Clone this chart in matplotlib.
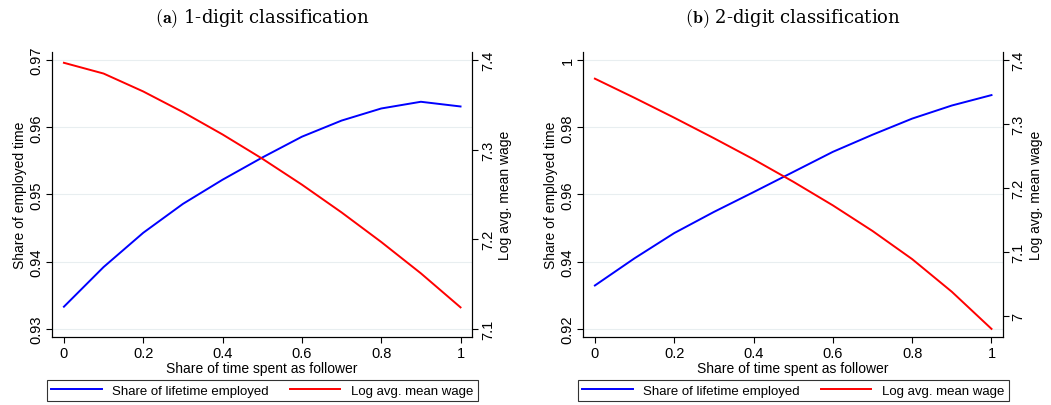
import numpy as np
import matplotlib
matplotlib.use("Agg")
import matplotlib.pyplot as plt

plt.rcParams['font.family'] = ['Liberation Sans', 'DejaVu Sans']
plt.rcParams['mathtext.fontset'] = 'cm'

share_follower = [0.0, 0.1, 0.2, 0.3, 0.4, 0.5, 0.6, 0.7, 0.8, 0.9, 1.0]

# panel a: 1-digit
emp_a = [0.9333, 0.9392, 0.9443, 0.9486, 0.9522, 0.9555, 0.9586, 0.9610, 0.9628, 0.9638, 0.9631]
wage_a = [7.397, 7.385, 7.365, 7.342, 7.317, 7.290, 7.261, 7.230, 7.197, 7.162, 7.124]
# panel b: 2-digit
emp_b = [0.9329, 0.9410, 0.9485, 0.9548, 0.9607, 0.9667, 0.9727, 0.9778, 0.9826, 0.9865, 0.9896]
wage_b = [7.371, 7.341, 7.310, 7.278, 7.245, 7.210, 7.173, 7.133, 7.089, 7.038, 6.980]

x_ticks = [0, 0.2, 0.4, 0.6, 0.8, 1]
x_labels = ["0", "0.2", "0.4", "0.6", "0.8", "1"]

panels = [
    dict(title="(a)", name="1-digit classification", emp=emp_a, wage=wage_a,
         lticks=[0.93, 0.94, 0.95, 0.96, 0.97], llabels=["0.93", "0.94", "0.95", "0.96", "0.97"],
         llim=(0.92876, 0.97124), rticks=[7.1, 7.2, 7.3, 7.4], rlabels=["7.1", "7.2", "7.3", "7.4"],
         rlim=(7.0907, 7.4093), left=0.0495),
    dict(title="(b)", name="2-digit classification", emp=emp_b, wage=wage_b,
         lticks=[0.92, 0.94, 0.96, 0.98, 1.0], llabels=["0.92", "0.94", "0.96", "0.98", "1"],
         llim=(0.9175, 1.0025), rticks=[7.0, 7.1, 7.2, 7.3, 7.4], rlabels=["7", "7.1", "7.2", "7.3", "7.4"],
         rlim=(6.967, 7.413), left=0.5547),
]

fig = plt.figure(figsize=(10.51, 4.06), dpi=100)

for p in panels:
    w = 0.4
    ax = fig.add_axes([p["left"], 0.167, w, 0.703])
    ax2 = ax.twinx()
    l1, = ax.plot(share_follower, p["emp"], color="blue", lw=1.4)
    l2, = ax2.plot(share_follower, p["wage"], color="red", lw=1.4)
    ax.set_xlim(-0.03, 1.03)
    ax.set_ylim(*p["llim"])
    ax2.set_ylim(*p["rlim"])
    ax.set_xticks(x_ticks, x_labels)
    ax.set_yticks(p["lticks"], p["llabels"], rotation=90, va="center")
    ax2.set_yticks(p["rticks"], p["rlabels"], rotation=90, va="center")
    ax.grid(axis="y", color="#e8eef0", lw=0.8)
    ax.set_axisbelow(True)
    for a in (ax, ax2):
        a.spines["top"].set_visible(False)
        a.tick_params(labelsize=10.5, length=4, width=0.8, pad=2)
    ax.set_xlabel("Share of time spent as follower", fontsize=10, labelpad=1)
    ax.set_ylabel("Share of employed time", fontsize=10, labelpad=2)
    ax2.set_ylabel("Log avg. mean wage", fontsize=10, labelpad=2)
    cx = p["left"] + w / 2
    fig.text(cx, 0.955, r"$\mathbf{" + p["title"] + "}$ " + p["name"], ha="center", va="center",
             fontsize=13, family="DejaVu Serif")
    leg = fig.legend([l1, l2], ["Share of lifetime employed", "Log avg. mean wage"], ncol=2,
                     loc="upper center", bbox_to_anchor=(cx, 0.062),
                     fontsize=9.5, frameon=True, fancybox=False, edgecolor="black",
                     handlelength=3.8, handletextpad=0.8, columnspacing=1.6,
                     borderpad=0.35, borderaxespad=0.0)
    leg.get_frame().set_linewidth(0.8)

fig.savefig("out.png", dpi=100)
